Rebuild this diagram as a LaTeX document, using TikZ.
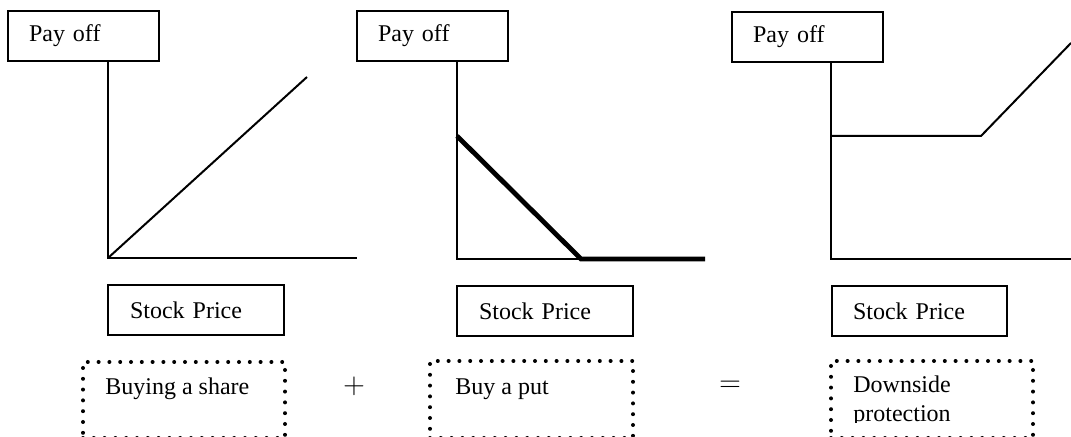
\documentclass[tikz,border=0pt]{standalone}
\usepackage{fontspec}
\setmainfont{Liberation Serif}
\begin{document}
\begin{tikzpicture}[x=0.5pt,y=-0.5pt,
  every node/.style={font=\fontsize{12}{14.5}\selectfont},
  solidbox/.style={draw, line width=1pt, rectangle, anchor=north west, minimum height=25pt, align=left},
  dotbox/.style={draw, line width=2pt, dash pattern=on 0pt off 5.4pt, line cap=round, rectangle, anchor=north west, inner sep=0pt},
  axis/.style={line width=1pt},
  curve/.style={line width=1pt},
  thickcurve/.style={line width=2.4pt},
  label/.style={anchor=base west, inner sep=0pt},
  op/.style={inner sep=0pt, font=\fontsize{13.5}{14}\selectfont}]
\path[use as bounding box] (0,0) rectangle (1071,437);

% ---- graph 1 ----
\node[solidbox, inner xsep=10.5pt, text width=54.5pt] (p1) at (7,10) {Pay off};
\coordinate (o1) at (108,258);
\coordinate (x1) at (357,258);
\coordinate (d1) at (307,77);
\draw[axis] (o1 |- p1.south) -- (o1) -- (x1);
\draw[curve] (o1) -- (d1);
\node[solidbox, inner xsep=11pt, text width=66pt] (s1) at (107,284) {Stock Price};

% ---- graph 2 ----
\node[solidbox, inner xsep=10.5pt, text width=54.5pt] (p2) at (356,10) {Pay off};
\coordinate (o2) at (457,259);
\coordinate (k2) at (581,259);
\coordinate (x2) at (705,259);
\coordinate (t2) at (457,136);
\draw[axis] (o2 |- p2.south) -- (o2) -- (k2);
\draw[thickcurve] (t2) -- (k2) -- (x2);
\node[solidbox, inner xsep=11pt, text width=66pt] (s2) at (456,285) {Stock Price};

% ---- graph 3 ----
\node[solidbox, inner xsep=10.5pt, text width=54.5pt] (p3) at (731,11) {Pay off};
\coordinate (o3) at (831,259);
\coordinate (x3) at (1071,259);
\coordinate (f3) at (831,136);
\coordinate (k3) at (981,136);
\coordinate (e3) at (1071,43);
\draw[axis] (o3 |- p3.south) -- (o3) -- (x3);
\draw[curve] (f3) -- (k3) -- (e3);
\node[solidbox, inner xsep=10.5pt, text width=66.5pt] (s3) at (831,285) {Stock Price};

% ---- captions ----
\node[dotbox, minimum width=101pt, minimum height=38pt] (b1) at (81,360) {};
\node[label] (t1) at (105,395) {Buying a share};
\node[op] (plus) at (354,386) {$+$};
\node[dotbox, minimum width=101.5pt, minimum height=38.5pt] (b2) at (428,359) {};
\node[label] (tb2) at (455,395) {Buy a put};
\node[op] (eq) at (730,386) {$=$};
\node[dotbox, minimum width=101pt, minimum height=38.5pt] (b3) at (829,359) {};
\node[label] (tb3a) at (853,393) {Downside};
\begin{scope}
  \clip (829,359) rectangle (1031,423);
  \node[label] (tb3b) at (853,422) {protection};
\end{scope}
\end{tikzpicture}
\end{document}
